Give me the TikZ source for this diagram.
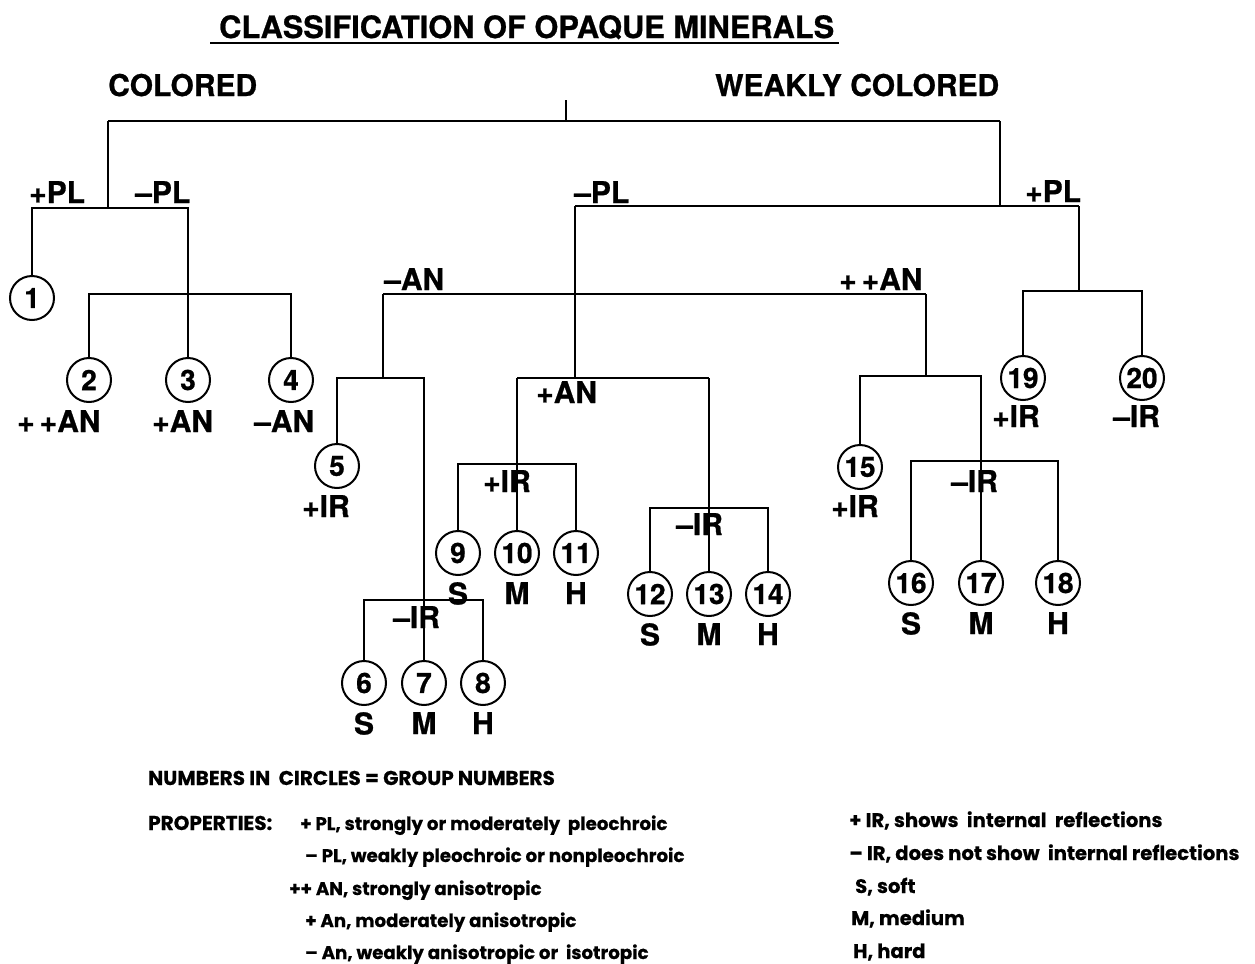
\documentclass[tikz,border=0pt]{standalone}
\usepackage{fontspec}
\setmainfont{TeX Gyre Heros}[BoldFeatures={FakeBold=0.8}]
\newfontfamily\legendfont{Poppins}[BoldFeatures={FakeBold=0.6}]
\usetikzlibrary{positioning}
\tikzset{
  every picture/.style={line width=1.2pt},
  grp/.style={draw, circle, line width=1pt, minimum size=22pt, inner sep=0pt, font=\bfseries\fontsize{14}{14}\selectfont},
  lbl/.style={anchor=base west, inner sep=0pt, font=\bfseries\fontsize{15}{15}\selectfont},
  hard/.style={below=2.5pt of #1, inner sep=0pt, font=\bfseries\fontsize{15}{15}\selectfont},
  legend/.style={anchor=base west, inner sep=0pt, font=\legendfont\bfseries\fontsize{9.1}{10}\selectfont},
  legendcap/.style={legend, font=\legendfont\bfseries\fontsize{10}{10}\selectfont},
  legendwide/.style={legend, font=\legendfont\bfseries\fontsize{9.8}{10}\selectfont},
}

\begin{document}
\begin{tikzpicture}[x=0.5pt, y=-0.5pt]
  \useasboundingbox (0,0) rectangle (1255,964);

  % title
  \node[lbl, font=\bfseries\fontsize{15.4}{15.4}\selectfont] (title) at (218,38) {CLASSIFICATION OF OPAQUE MINERALS};
  \draw ([xshift=-4pt,yshift=-2.5pt]title.base west) -- ([xshift=2pt,yshift=-2.5pt]title.base east);

  % group circles
  \foreach \n/\x/\y in {1/32/298, 2/89/380, 3/188/380, 4/291/380, 5/337/466,
                        6/364/683, 7/424/683, 8/483/683, 9/458/553, 10/517/553,
                        11/576/553, 12/650/594, 13/709/594, 14/768/594, 15/860/467,
                        16/911/583, 17/981/583, 18/1058/583, 19/1023/378, 20/1142/378}
    \node[grp] (g\n) at (\x,\y) {\n};

  % top split
  \coordinate (top) at (566,100);
  \coordinate (colj) at (108,121);
  \coordinate (wkj) at (1000,121);
  \draw (top) -- (top |- colj);
  \draw (colj) -- (wkj);
  \node[lbl] (colored) at (107,96) {COLORED};
  \node[lbl] (weakly) at (714,96) {WEAKLY COLORED};

  % colored
  \coordinate (plL) at (108,208);
  \coordinate (plR) at (188,208);
  \draw (colj) -- (plL);
  \draw (g1) |- (plR) -- (g3);
  \coordinate (anL) at (89,294);
  \draw (g2) -- (anL) -| (g4);
  \node[lbl] (plA) at (28,203) {+PL};
  \node[lbl] (plB) at (134,203) {–PL};
  \node[lbl] (an2) at (16,432) {+\,+AN};
  \node[lbl] (an3) at (151,432) {+AN};
  \node[lbl] (an4) at (253,432) {–AN};

  % weakly colored
  \coordinate (mpl) at (575,206);
  \coordinate (ppl) at (1079,206);
  \draw (wkj) -- (wkj |- mpl);
  \draw (mpl) -- (ppl);
  \node[lbl] (plC) at (573,203) {–PL};
  \node[lbl] (plD) at (1024,202) {+PL};
  \coordinate (pplj) at (1079,291);
  \draw (ppl) -- (pplj);
  \draw (g19) |- (pplj) -| (g20);
  \node[lbl] (ir19) at (991,427) {+IR};
  \node[lbl] (ir20) at (1112,427) {–IR};

  % -AN / ++AN
  \coordinate (manl) at (383,294);
  \coordinate (ppanr) at (926,294);
  \draw (manl) -- (ppanr);
  \node[lbl] (anA) at (383,290) {–AN};
  \node[lbl] (anB) at (838,290) {+\,+AN};
  \coordinate (manj) at (383,378);
  \draw (manl) -- (manj);
  \draw (g5) |- (manj) -| (g7);
  \node[lbl] (ir5) at (301,517) {+IR};
  \coordinate (irA) at (424,600);
  \draw (g6) |- (irA) -| (g8);
  \node[lbl] (irlA) at (392,628) {–IR};

  % +AN
  \coordinate (panl) at (517,378);
  \coordinate (panr) at (709,378);
  \draw (mpl) -- (mpl |- panl);
  \draw (panl) -- (panr);
  \draw (panl) -- (g10);
  \draw (panr) -- (g13);
  \node[lbl] (anC) at (535,403) {+AN};
  \coordinate (irB) at (517,464);
  \draw (g9) |- (irB) -| (g11);
  \node[lbl] (irlB) at (482,492) {+IR};
  \coordinate (irC) at (709,508);
  \draw (g12) |- (irC) -| (g14);
  \node[lbl] (irlC) at (675,535) {–IR};

  % ++AN
  \coordinate (ppanj) at (926,376);
  \draw (ppanr) -- (ppanj);
  \draw (g15) |- (ppanj) -| (g17);
  \node[lbl] (ir15) at (830,517) {+IR};
  \coordinate (irD) at (981,461);
  \draw (g16) |- (irD) -| (g18);
  \node[lbl] (irlD) at (950,492) {–IR};

  % hardness
  \node[hard=g6] (h6) {S};
  \node[hard=g7] (h7) {M};
  \node[hard=g8] (h8) {H};
  \node[hard=g9] (h9) {S};
  \node[hard=g10] (h10) {M};
  \node[hard=g11] (h11) {H};
  \node[hard=g12] (h12) {S};
  \node[hard=g13] (h13) {M};
  \node[hard=g14] (h14) {H};
  \node[hard=g16] (h16) {S};
  \node[hard=g17] (h17) {M};
  \node[hard=g18] (h18) {H};

  % legend
  \node[legendcap] (numbers) at (147,785) {NUMBERS IN\ \ CIRCLES = GROUP NUMBERS};
  \node[legendcap] (props) at (147,830) {PROPERTIES:};
  \node[legend] (kPLp) at (299,830) {+ PL, strongly or moderately\ \ pleochroic};
  \node[legend] (kPLm) at (304,862) {– PL, weakly pleochroic or nonpleochroic};
  \node[legend] (kANpp) at (288,895) {++ AN, strongly anisotropic};
  \node[legend] (kANp) at (304,927) {+ An, moderately anisotropic};
  \node[legend] (kANm) at (304,959) {– An, weakly anisotropic or\ \ isotropic};
  \node[legendwide] (kIRp) at (848,827) {+ IR, shows\ \ internal\ \ reflections};
  \node[legendwide] (kIRm) at (848,860) {– IR, does not show\ \ internal reflections};
  \node[legendwide] (kS) at (854,893) {S, soft};
  \node[legendwide] (kM) at (850,925) {M, medium};
  \node[legendwide] (kH) at (852,958) {H, hard};
\end{tikzpicture}
\end{document}
